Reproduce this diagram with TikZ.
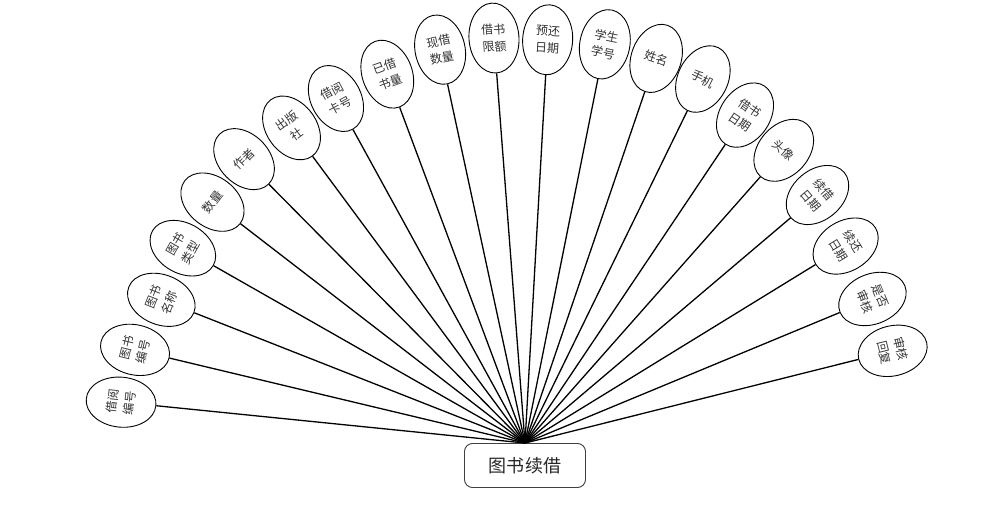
\documentclass[tikz,border=0pt]{standalone}
\usepackage{fontspec}
\setmainfont{Noto Sans CJK SC}
\usetikzlibrary{shapes.geometric}
\begin{document}
\begin{tikzpicture}[x=1pt,y=1pt,
  attr/.style={ellipse,draw=black,line width=0.9pt,fill=white,minimum width=50pt,minimum height=70pt,inner sep=0pt,align=center,font=\fontsize{12}{17}\selectfont,text=black!80},
  hubbox/.style={draw=black!75,rounded corners=8pt,line width=0.9pt,fill=white,minimum width=121pt,minimum height=44pt,font=\fontsize{18}{20}\selectfont,text=black!85},
  ln/.style={line width=1.3pt,black}]
\useasboundingbox (-523,-62) rectangle (462,443);

% entity
\node[hubbox] (hub) at (2,-22.5) {图书续借};

% attributes, left to right round the entity
\node[attr,rotate=84.2]  (jybh) at (174.2:404) {借阅\\编号};
\node[attr,rotate=76.5]  (tsbh) at (166.5:399) {图书\\编号};
\node[attr,rotate=68.4]  (tsmc) at (158.4:389) {图书\\名称};
\node[attr,rotate=60.2]  (tslx) at (150.2:392) {图书\\类型};
\node[attr,rotate=52.2]  (sl)   at (142.2:393) {数量};
\node[attr,rotate=44.5]  (zz)   at (134.5:398) {作者};
\node[attr,rotate=36.3]  (cbs)  at (126.3:391) {出版\\社};
\node[attr,rotate=28.5]  (jykh) at (118.5:392) {借阅\\卡号};
\node[attr,rotate=20.2]  (yjsl) at (110.2:393) {已借\\书量};
\node[attr,rotate=11.9]  (xjsl) at (101.9:402) {现借\\数量};
\node[attr,rotate=4.1]   (jsxe) at (94.1:406)  {借书\\限额};
\node[attr,rotate=-3.5]  (yhrq) at (86.5:404)  {预还\\日期};
\node[attr,rotate=-11.6] (xsxh) at (78.4:407)  {学生\\学号};
\node[attr,rotate=-19.1] (xm)   at (70.9:407)  {姓名};
\node[attr,rotate=-26.3] (sj)   at (63.7:406)  {手机};
\node[attr,rotate=-34.1] (jsrq) at (55.9:396)  {借书\\日期};
\node[attr,rotate=-41.7] (tx)   at (48.3:392)  {头像};
\node[attr,rotate=-49.9] (xjrq) at (40.1:385)  {续借\\日期};
\node[attr,rotate=-58.6] (xhrq) at (31.4:378)  {续还\\日期};
\node[attr,rotate=-67.6] (sfsh) at (22.4:378)  {是否\\审核};
\node[attr,rotate=-76.0] (shhf) at (14.0:381)  {审核\\回复};

% links
\foreach \a in {jybh,tsbh,tsmc,tslx,sl,zz,cbs,jykh,yjsl,xjsl,jsxe,yhrq,xsxh,xm,sj,jsrq,tx,xjrq,xhrq,sfsh,shhf}
  \draw[ln] (\a) -- (hub.north);
\end{tikzpicture}
\end{document}
